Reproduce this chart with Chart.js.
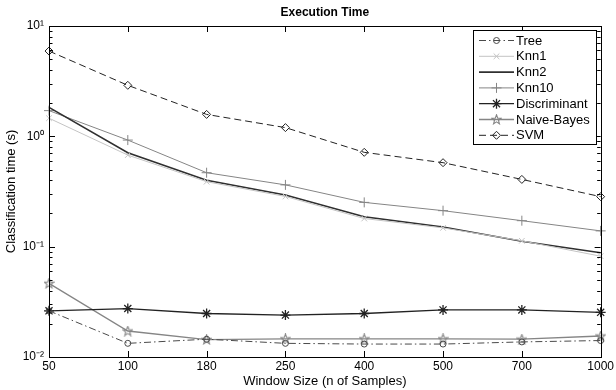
<!DOCTYPE html>
<html><head><meta charset="utf-8">
<script src="https://cdn.jsdelivr.net/npm/chart.js@4/dist/chart.umd.min.js"></script>
<style>html,body{margin:0;padding:0;background:#fff}#wrap{width:616px;height:390px}</style>
</head><body><div id="wrap"><canvas id="c" width="616" height="390"></canvas></div>
<script>
const categories = ['50','100','180','250','400','500','700','1000'];
const tree = [0.0262,0.0133,0.0145,0.0133,0.0131,0.0131,0.0137,0.0141];
const knn1 = [1.46,0.676,0.388,0.285,0.180,0.148,0.113,0.082];
const knn2 = [1.83,0.71,0.40,0.294,0.187,0.151,0.112,0.088];
const knn10 = [1.71,0.925,0.468,0.363,0.252,0.212,0.172,0.139];
const discriminant = [0.0262,0.0275,0.0248,0.0240,0.0248,0.0267,0.0267,0.0254];
const naiveBayes = [0.0465,0.0172,0.0144,0.0146,0.0146,0.0146,0.0145,0.0155];
const svm = [5.93,2.9,1.58,1.2,0.716,0.577,0.407,0.284];
const yTickLabels = {'-2':'10\u207B\u00B2','-1':'10\u207B\u00B9','0':'10\u2070','1':'10\u00B9'};

const FONT = "'Liberation Sans', Arial, sans-serif";

function pentagram(color){
  const c = document.createElement('canvas');
  c.width = 11; c.height = 11;
  const g = c.getContext('2d');
  g.strokeStyle = color; g.lineWidth = 1.1;
  g.beginPath();
  for (let i = 0; i < 10; i++) {
    const r = i % 2 === 0 ? 5 : 2.1;
    const a = -Math.PI/2 + i*Math.PI/5;
    const x = 5.5 + r*Math.cos(a), y = 5.8 + r*Math.sin(a);
    if (i === 0) g.moveTo(x,y); else g.lineTo(x,y);
  }
  g.closePath(); g.stroke();
  return c;
}

function ds(label, data, color, opts){
  return Object.assign({
    label, data, borderColor: color, pointBorderColor: color,
    pointBackgroundColor: 'rgba(0,0,0,0)', borderWidth: 1, pointBorderWidth: 1,
    tension: 0, fill: false, pointRadius: 3.5, pointHoverRadius: 3.5
  }, opts);
}

const datasets = [
  ds('Tree', tree, '#4a4a4a', {borderDash:[7,3,1.5,3], pointStyle:'circle', pointRadius:3}),
  ds('Knn1', knn1, '#c4c4c4', {pointStyle:'crossRot', pointRadius:4}),
  ds('Knn2', knn2, '#303030', {borderWidth:1.6, pointRadius:0, pointStyle:'line'}),
  ds('Knn10', knn10, '#858585', {pointStyle:'cross', pointRadius:5}),
  ds('Discriminant', discriminant, '#222222', {borderWidth:1.3, pointStyle:'star', pointRadius:5, pointBorderWidth:1.3}),
  ds('Naive-Bayes', naiveBayes, '#858585', {borderWidth:1.3, pointStyle:pentagram('#858585'), pointRadius:5}),
  ds('SVM', svm, '#222222', {borderDash:[7,4], pointStyle:'rectRot', pointRadius:4})
];

const axesPlugin = {
  id: 'matlabAxes',
  afterDraw(chart){
    const ctx = chart.ctx, a = chart.chartArea;
    const ys = chart.scales.y, xs = chart.scales.x;
    ctx.save();
    ctx.strokeStyle = '#000'; ctx.lineWidth = 1; ctx.setLineDash([]);
    ctx.beginPath();
    for (let d = -2; d <= 1; d++) {
      const base = Math.pow(10, d);
      const maxK = d === 1 ? 1 : 9;
      for (let k = 1; k <= maxK; k++) {
        const y = Math.round(ys.getPixelForValue(k*base)) + 0.5;
        const len = k === 1 ? 6 : 3.5;
        ctx.moveTo(a.left, y); ctx.lineTo(a.left + len, y);
        ctx.moveTo(a.right, y); ctx.lineTo(a.right - len, y);
      }
    }
    for (let i = 0; i < categories.length; i++) {
      const x = Math.round(xs.getPixelForValue(i)) + 0.5;
      ctx.moveTo(x, a.bottom); ctx.lineTo(x, a.bottom - 6);
      ctx.moveTo(x, a.top); ctx.lineTo(x, a.top + 6);
    }
    ctx.stroke();
    ctx.strokeRect(Math.round(a.left)+0.5, Math.round(a.top)+0.5, Math.round(a.right-a.left), Math.round(a.bottom-a.top));

    // legend
    const lx = 473.5, ly = 30.5, lw = 123, lh = 114;
    ctx.fillStyle = '#fff';
    ctx.fillRect(lx, ly, lw, lh);
    ctx.strokeRect(lx, ly, lw, lh);
    ctx.font = '13px ' + FONT;
    ctx.textBaseline = 'middle'; ctx.textAlign = 'left';
    chart.data.datasets.forEach((d, i) => {
      const cy = ly + 10 + i*15.8;
      ctx.save();
      ctx.strokeStyle = d.borderColor; ctx.lineWidth = d.borderWidth;
      ctx.setLineDash(d.borderDash || []);
      ctx.beginPath(); ctx.moveTo(479, cy); ctx.lineTo(514, cy); ctx.stroke();
      ctx.setLineDash([]);
      if (d.pointRadius > 0 && Chart.helpers && Chart.helpers.drawPoint) {
        ctx.strokeStyle = d.pointBorderColor; ctx.fillStyle = d.pointBackgroundColor;
        ctx.lineWidth = d.pointBorderWidth;
        Chart.helpers.drawPoint(ctx, {pointStyle: d.pointStyle, radius: d.pointRadius, borderWidth: d.pointBorderWidth, rotation: 0}, 496.5, cy);
      }
      ctx.restore();
      ctx.fillStyle = '#000';
      ctx.fillText(d.label, 516, cy + 0.5);
    });
    ctx.restore();
  }
};

new Chart(document.getElementById('c'), {
  type: 'line',
  data: { labels: categories, datasets },
  plugins: [axesPlugin],
  options: {
    responsive: false, animation: false, devicePixelRatio: 1,
    layout: { padding: { left: 0, right: 14, top: 0, bottom: 0 } },
    plugins: {
      legend: { display: false },
      tooltip: { enabled: false },
      title: { display: true, text: 'Execution Time', fullSize: false, color: '#000',
        font: { family: FONT, size: 12, weight: 'bold' }, padding: { top: 5, bottom: 6.6 } }
    },
    scales: {
      x: {
        type: 'category', offset: false,
        grid: { display: false, drawTicks: false, tickLength: 0 },
        border: { display: false },
        ticks: { color: '#000', font: { family: FONT, size: 12 }, padding: 2, maxRotation: 0, autoSkip: false },
        title: { display: true, text: 'Window Size (n of Samples)', color: '#000',
          font: { family: FONT, size: 13 }, padding: { top: 0, bottom: 0.7 } },
        afterFit(s){ s.height = 33; }
      },
      y: {
        type: 'logarithmic', min: 0.01, max: 10,
        grid: { display: false, drawTicks: false, tickLength: 0 },
        border: { display: false },
        ticks: { color: '#000', font: { family: FONT, size: 12 }, padding: 5, autoSkip: false,
          callback(v){ const e = Math.log10(v); const r = Math.round(e);
            return Math.abs(e - r) < 1e-6 && yTickLabels[String(r)] ? yTickLabels[String(r)] : ''; } },
        title: { display: true, text: 'Classification time (s)', color: '#000',
          font: { family: FONT, size: 13 }, padding: { top: 4, bottom: 0 } },
        afterFit(s){ s.width = 49; }
      }
    }
  }
});
</script></body></html>
